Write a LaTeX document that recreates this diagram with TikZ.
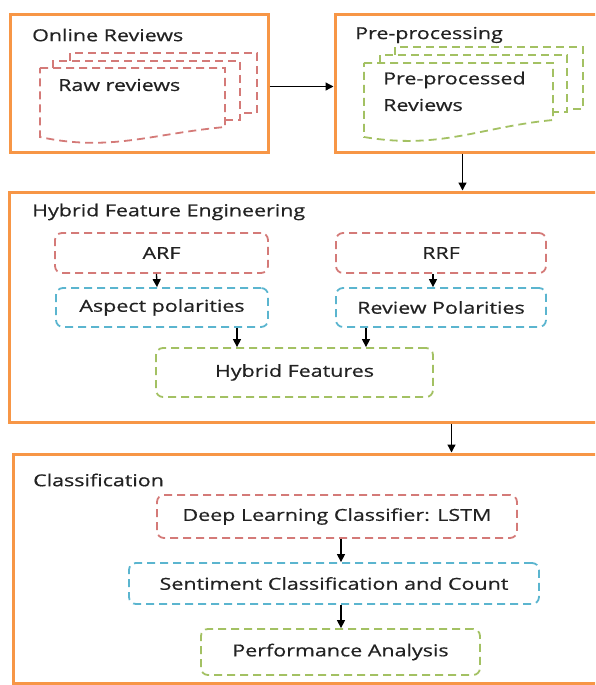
\documentclass[tikz,border=0pt]{standalone}
\usepackage{fontspec}
\setmainfont{Open Sans}[FakeStretch=1.3, FakeBold=0.6]
\usepackage{xcolor}
\usepackage{tikz}
\usetikzlibrary{arrows.meta,positioning}

\definecolor{stageorange}{HTML}{F79646}
\definecolor{boxred}{HTML}{D47A78}
\definecolor{boxblue}{HTML}{5BB5CF}
\definecolor{boxgreen}{HTML}{A3C163}
\definecolor{textgray}{HTML}{222222}

\begin{document}
\begin{tikzpicture}[x=1pt, y=-1pt,
    font=\fontsize{16.5}{19}\selectfont, text=textgray,
    stage/.style={draw=stageorange, line width=3pt, inner sep=0pt},
    title/.style={anchor=west, inner sep=0pt},
    part/.style={draw, dash pattern=on 8pt off 5pt, line width=1.8pt, rounded corners=7pt, inner sep=0pt},
    redpart/.style={part, draw=boxred},
    bluepart/.style={part, draw=boxblue},
    greenpart/.style={part, draw=boxgreen},
    doc/.style={dash pattern=on 8pt off 5pt, line width=1.8pt},
    flow/.style={-{Triangle[length=8pt,width=8pt]}, line width=1.3pt, black}]

    \clip (0,0) rectangle (595,685);

    \node[stage, minimum width=258pt, minimum height=137pt] (online) at (139,83.5) {};

    \node[stage, minimum width=263pt, minimum height=137pt] (prep) at (466.5,83.5) {};

    \node[stage, minimum width=588pt, minimum height=230pt] (hfe) at (303.5,307) {};

    \node[stage, minimum width=585pt, minimum height=229pt] (classif) at (305.5,568.5) {};

    \node[title] (onlinetitle) at (32,35) {Online Reviews};

    \node[title] (preptitle) at (355,35) {Pre-processing};

    \node[title] (hfetitle) at (32,212) {Hybrid Feature Engineering};

    \node[title] (classiftitle) at (33,480) {Classification};

    \draw[doc, boxred] (70,61) -- (70,53) -- (257,53) -- (257,113) -- (240,113);
    \draw[doc, boxred] (53,68) -- (53,61) -- (240,61) -- (240,120) -- (225,120);
    \draw[doc, boxred] (40,68) -- (225,68) -- (225,127) .. controls (150,134) and (110,152) .. (40,137) -- cycle;

    \node[title] (raw) at (58,85) {Raw reviews};

    \draw[doc, boxgreen] (395,55) -- (395,47) -- (583,47) -- (583,109) -- (567,109);
    \draw[doc, boxgreen] (380,63) -- (380,55) -- (567,55) -- (567,112) -- (553,112);
    \draw[doc, boxgreen] (364,63) -- (553,63) -- (553,120) .. controls (480,127) and (440,150) .. (364,137) -- cycle;

    \node[title] (preprocessed) at (383,80) {Pre-processed};

    \node[title] (preprocessed2) at (383,105) {Reviews};

    \node[redpart, minimum width=213pt, minimum height=40pt] (arf) at (161.5,253) {ARF};

    \node[redpart, minimum width=210pt, minimum height=40pt] (rrf) at (441,253) {RRF};

    \node[bluepart, minimum width=212pt, minimum height=39pt] (aspect) at (162,307.5) {Aspect polarities};

    \node[bluepart, minimum width=210pt, minimum height=39pt] (review) at (441,307.5) {Review Polarities};

    \node[greenpart, minimum width=277pt, minimum height=49pt] (hybrid) at (294.5,372.5) {Hybrid Features};

    \node[redpart, minimum width=360pt, minimum height=43pt] (lstm) at (337,516.5) {Deep Learning Classifier: LSTM};

    \node[bluepart, minimum width=410pt, minimum height=41pt] (sentiment) at (334,583.5) {Sentiment Classification and Count};

    \node[greenpart, minimum width=279pt, minimum height=46pt] (perf) at (340.5,652) {Performance Analysis};

    \draw[flow] ([yshift=-3pt]online.east) -- ([yshift=-3pt]prep.west);

    \draw[flow] ([xshift=-4pt]prep.south) -- ([xshift=-4pt]prep.south |- hfe.north);

    \draw[flow] ([xshift=148pt]hfe.south) -- ([xshift=148pt]hfe.south |- classif.north);

    \draw[flow] ([xshift=-5pt]arf.south) -- ([xshift=-5pt]aspect.north);

    \draw[flow] ([xshift=-8pt]rrf.south) -- ([xshift=-8pt]review.north);

    \draw[flow] ([xshift=75pt]aspect.south) -- ([xshift=75pt]aspect.south |- hybrid.north);

    \draw[flow] ([xshift=-75pt]review.south) -- ([xshift=-75pt]review.south |- hybrid.north);

    \draw[flow] ([xshift=4pt]lstm.south) -- ([xshift=4pt]lstm.south |- sentiment.north);

    \draw[flow] ([xshift=4pt]lstm.south |- sentiment.south) -- ([xshift=4pt]lstm.south |- perf.north);
\end{tikzpicture}
\end{document}
